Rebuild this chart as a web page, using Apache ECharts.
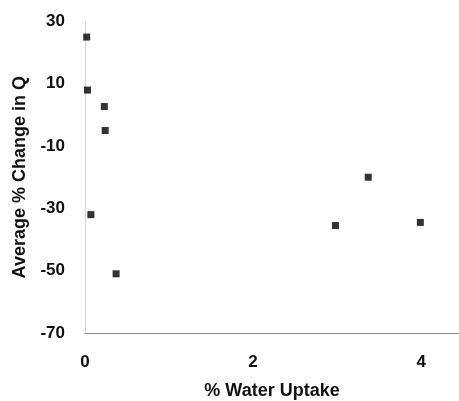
<!DOCTYPE html>
<html>
<head>
<meta charset="utf-8">
<script src="https://cdn.jsdelivr.net/npm/echarts@6/dist/echarts.min.js"></script>
<style>
  html, body { margin: 0; padding: 0; background: #fff; }
  #chart { width: 459px; height: 401px; }
</style>
</head>
<body>
<div id="chart"></div>
<script>
// values
const waterUptake = [0.02, 0.03, 0.23, 0.24, 0.07, 0.37, 2.98, 3.37, 3.99]
const changeInQ = [25, 8, 2.7, -5, -32, -51, -35.5, -20, -34.5]
const xTicks = [0, 2, 4]
const yTicks = [30, 10, -10, -30, -50, -70]

const points = waterUptake.map((x, i) => [x, changeInQ[i]])

const chart = echarts.init(document.getElementById('chart'))
const font = 'Liberation Sans, Arial, sans-serif'

chart.setOption({
    animation: false,
    grid: { left: 85, right: 0, top: 21.5, bottom: 68, outerBoundsMode: 'none', containLabel: false },
    xAxis: {
        type: 'value',
        min: 0,
        max: 4.45,
        interval: 2,
        name: '% Water Uptake',
        nameLocation: 'middle',
        nameGap: 49,
        nameTextStyle: { fontFamily: font, fontSize: 18, fontWeight: 'bold', color: '#111' },
        axisLine: { onZero: false, lineStyle: { color: '#888', width: 1 } },
        axisTick: { show: false },
        splitLine: { show: false },
        axisLabel: {
            fontFamily: font, fontSize: 17, fontWeight: 'bold', color: '#111', margin: 21,
            formatter: v => xTicks.includes(v) ? String(v) : ''
        }
    },
    yAxis: {
        type: 'value',
        min: -70,
        max: 30,
        interval: 20,
        name: 'Average % Change in Q',
        nameLocation: 'middle',
        nameGap: 56,
        nameTextStyle: { fontFamily: font, fontSize: 18, fontWeight: 'bold', color: '#111' },
        axisLine: { show: true, onZero: false, lineStyle: { color: '#ccc', width: 1, type: 'dotted' } },
        axisTick: { show: false },
        splitLine: { show: false },
        axisLabel: {
            fontFamily: font, fontSize: 17, fontWeight: 'bold', color: '#111', margin: 20,
            formatter: v => yTicks.includes(v) ? String(v) : ''
        }
    },
    series: [{
        type: 'scatter',
        data: points,
        symbol: 'rect',
        symbolSize: 7,
        itemStyle: { color: '#000' }
    }]
})
</script>
</body>
</html>
